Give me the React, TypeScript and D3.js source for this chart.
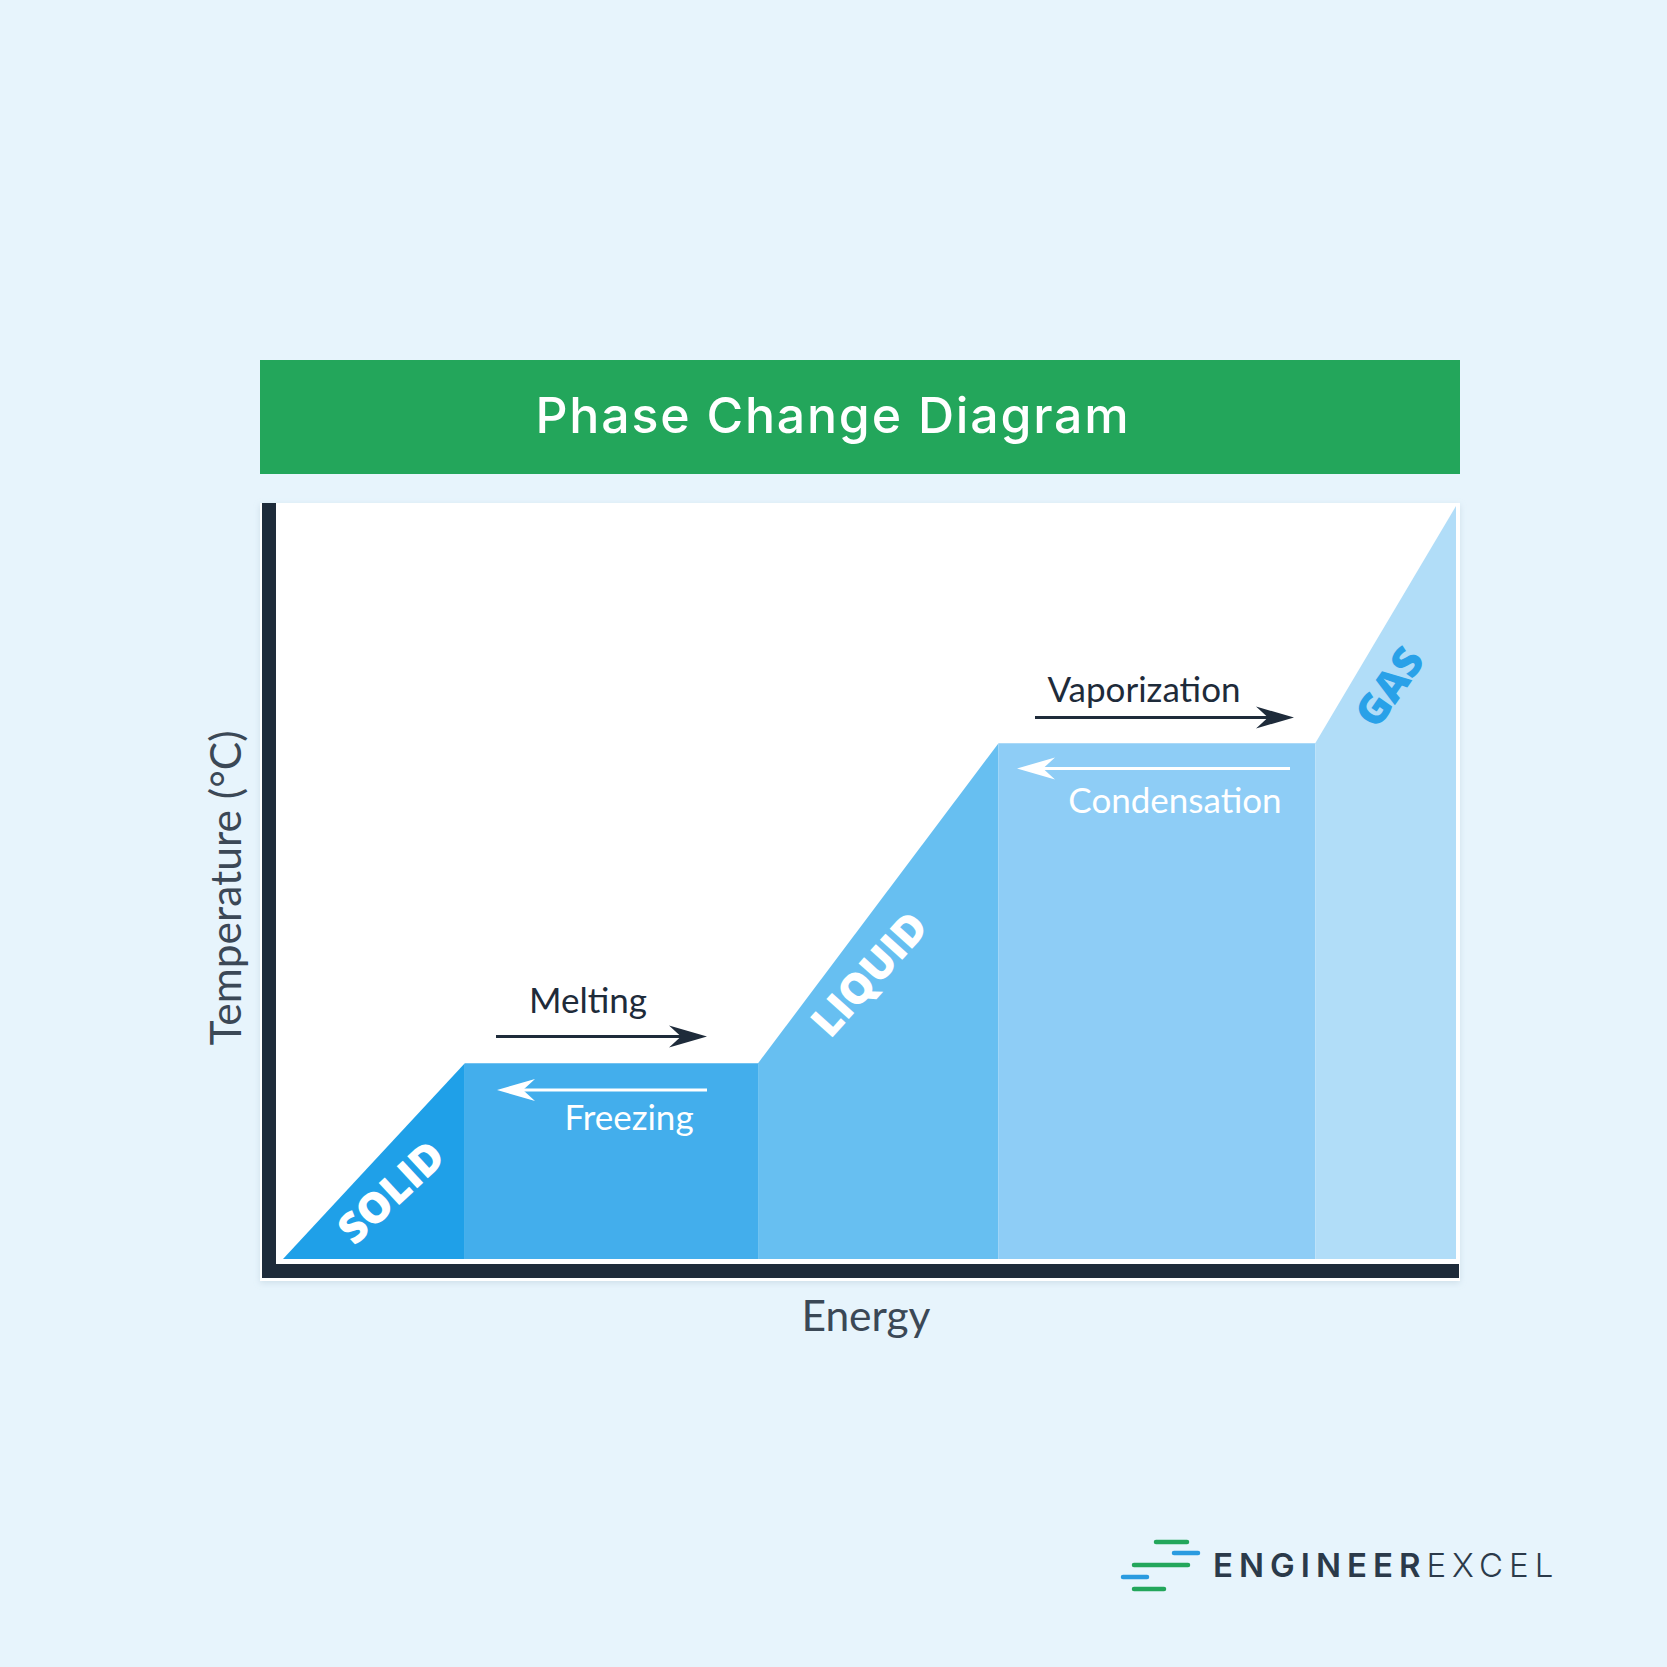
import React from "react";
import * as d3 from "d3";

// Phase change curve: energy breakpoints (x) and temperature (y), domain 0..100
const energyPoints = [0, 15.5, 40.5, 61, 88, 100];
const tempPoints = [0, 26, 26, 68.5, 68.5, 100];
const phaseNames = ["SOLID", "Melting", "LIQUID", "Vaporization", "GAS"];
const phaseColors = ["#1fa0e8", "#43aeec", "#67bff1", "#8ecdf6", "#b1ddf8"];

const W = 1667;
const H = 1667;
const xScale = d3.scaleLinear().domain([0, 100]).range([283, 1456]);
const yScale = d3.scaleLinear().domain([0, 100]).range([1259, 506]);

const line = d3.line<[number, number]>()
  .x((d) => xScale(d[0]))
  .y((d) => yScale(d[1]));

function regionPath(i: number) {
  const pts: [number, number][] = [
    [energyPoints[i], 0],
    [energyPoints[i], tempPoints[i]],
    [energyPoints[i + 1], tempPoints[i + 1]],
    [energyPoints[i + 1], 0],
  ];
  return line(pts) + "Z";
}

function Arrow({ x1, x2, y, color }: { x1: number; x2: number; y: number; color: string }) {
  // arrow from x1 to x2 (tip at x2)
  const dir = x2 > x1 ? 1 : -1;
  const L = 38;
  const h = 11;
  const notch = 26;
  const head = `M${x2},${y} L${x2 - dir * L},${y - h} L${x2 - dir * notch},${y} L${x2 - dir * L},${y + h} Z`;
  return (
    <g>
      <line x1={x1} x2={x2 - dir * 20} y1={y} y2={y} stroke={color} strokeWidth={3} />
      <path d={head} fill={color} />
    </g>
  );
}

export default function App() {
  const labelFont = "Lato, 'Open Sans', sans-serif";
  const dark = "#1e2b3a";
  return (
    <svg width={W} height={H} style={{ position: "absolute", left: 0, top: 0 }} xmlns="http://www.w3.org/2000/svg">
      <defs>
        <filter id="sh" x="-5%" y="-5%" width="110%" height="110%">
          <feDropShadow dx="0" dy="2" stdDeviation="3" floodColor="#9fb8c8" floodOpacity="0.35" />
        </filter>
      </defs>
      <rect x={0} y={0} width={W} height={H} fill="#e7f4fc" />
      {/* title bar */}
      <rect x={260} y={360} width={1200} height={114} fill="#23a65b" />
      <text x={833} y={433} textAnchor="middle" fill="#ffffff" fontFamily="Inter, 'Open Sans', sans-serif" fontWeight={500} fontSize={50} letterSpacing={1.8}>
        Phase Change Diagram
      </text>
      {/* plot panel */}
      <rect x={260} y={503} width={1200} height={778} fill="#ffffff" filter="url(#sh)" />
      {phaseNames.map((n, i) => (
        <path key={n} d={regionPath(i)} fill={phaseColors[i]} />
      ))}
      {/* axes */}
      <rect x={262} y={503} width={14} height={775} fill={dark} />
      <rect x={262} y={1264} width={1197} height={14} fill={dark} />
      {/* arrows & labels */}
      <text x={588} y={1013} textAnchor="middle" fontFamily={labelFont} fontSize={35} fill="#1e2b3a">Melting</text>
      <Arrow x1={496} x2={707} y={1036.5} color={dark} />
      <Arrow x1={707} x2={497} y={1090} color="#ffffff" />
      <text x={629} y={1130} textAnchor="middle" fontFamily={labelFont} fontSize={35} fill="#ffffff">Freezing</text>
      <text x={1144} y={702} textAnchor="middle" fontFamily={labelFont} fontSize={35} fill="#1e2b3a">Vaporization</text>
      <Arrow x1={1035} x2={1294} y={717.5} color={dark} />
      <Arrow x1={1290} x2={1017} y={768.5} color="#ffffff" />
      <text x={1175} y={813} textAnchor="middle" fontFamily={labelFont} fontSize={35} fill="#ffffff">Condensation</text>
      {/* phase labels */}
      <text transform="translate(390,1191) rotate(-43)" textAnchor="middle" dominantBaseline="central" fontFamily="'Open Sans', sans-serif" fontWeight={800} fontSize={42} fill="#ffffff">SOLID</text>
      <text transform="translate(868,973) rotate(-48)" textAnchor="middle" dominantBaseline="central" fontFamily="'Open Sans', sans-serif" fontWeight={800} fontSize={42} fill="#ffffff">LIQUID</text>
      <text transform="translate(1388,686) rotate(-55)" textAnchor="middle" dominantBaseline="central" fontFamily="'Open Sans', sans-serif" fontWeight={800} fontSize={42} fill="#29a1e8">GAS</text>
      {/* axis titles */}
      <text transform="translate(241,888) rotate(-90)" textAnchor="middle" fontFamily={labelFont} fontSize={42.5} fill="#3b4856">Temperature (°C)</text>
      <text x={866} y={1331} textAnchor="middle" fontFamily={labelFont} fontSize={42.5} fill="#3b4856">Energy</text>
      {/* logo */}
      <g strokeLinecap="round" strokeWidth={4.5}>
        <line x1={1156} x2={1187} y1={1542} y2={1542} stroke="#23a65b" />
        <line x1={1174} x2={1198} y1={1553} y2={1553} stroke="#2a9be0" />
        <line x1={1134} x2={1188} y1={1565} y2={1565} stroke="#23a65b" />
        <line x1={1123} x2={1147} y1={1577} y2={1577} stroke="#2a9be0" />
        <line x1={1134} x2={1164} y1={1589} y2={1589} stroke="#23a65b" />
      </g>
      <text x={1213} y={1577} fontFamily="Inter, 'Open Sans', sans-serif" fontSize={33} letterSpacing={6} fill="#2b3a4a">
        <tspan fontWeight={600}>ENGINEER</tspan>
        <tspan fontWeight={300}>EXCEL</tspan>
      </text>
    </svg>
  );
}
